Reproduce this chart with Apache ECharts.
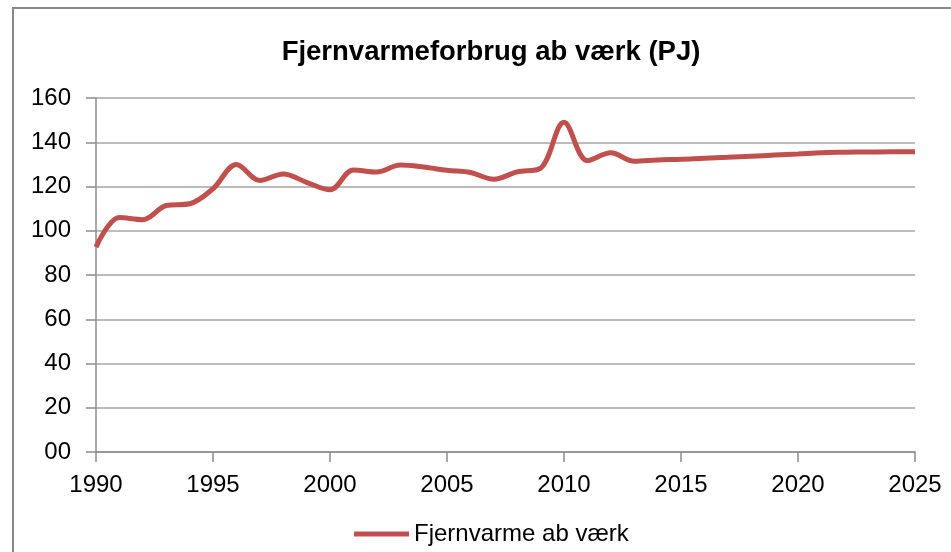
<!DOCTYPE html>
<html>
<head>
<meta charset="utf-8">
<script src="https://cdn.jsdelivr.net/npm/echarts@6/dist/echarts.min.js"></script>
<style>
html,body{margin:0;padding:0;background:#fff;}
#chart{width:951px;height:552px;}
</style>
</head>
<body>
<div id="chart"></div>
<script>
var titleText = 'Fjernvarmeforbrug ab værk (PJ)';
var seriesName = 'Fjernvarme ab værk';
var years = [1990,1991,1992,1993,1994,1995,1996,1997,1998,1999,2000,2001,2002,2003,2004,2005,2006,2007,2008,2009,2010,2011,2012,2013,2014,2015,2016,2017,2018,2019,2020,2021,2022,2023,2024,2025];
var values = [92.6,106.0,105.0,111.4,112.2,119.0,130.0,122.7,125.7,121.9,118.5,127.5,126.5,129.7,128.8,127.3,126.3,123.3,126.6,128.3,149.0,131.7,135.2,131.4,132.0,132.3,132.8,133.2,133.7,134.2,134.7,135.3,135.5,135.6,135.7,135.7];
var yTickLabels = {0:'00',20:'20',40:'40',60:'60',80:'80',100:'100',120:'120',140:'140',160:'160'};

var data = years.map(function(y,i){return [y, values[i]];});
var font = 'Liberation Sans, Arial, sans-serif';
var chart = echarts.init(document.getElementById('chart'), null, {renderer:'canvas'});
chart.setOption({
  animation:false,
  backgroundColor:'#ffffff',
  title:{
    text:titleText,
    left:486, top:33, textAlign:'center',
    textStyle:{fontFamily:font,fontSize:27.5,fontWeight:'bold',color:'#000'}
  },
  graphic:[{
    type:'rect', shape:{x:13,y:8,width:1000,height:700},
    style:{fill:'none',stroke:'#888888',lineWidth:2}, silent:true
  }],
  legend:{
    data:[seriesName], top:517, left:349,
    icon:'rect', itemWidth:55, itemHeight:5, itemGap:10,
    textStyle:{fontFamily:font,fontSize:24,color:'#000'}
  },
  grid:{left:96,right:36,top:98,bottom:100,containLabel:false},
  xAxis:{
    type:'value', min:1990, max:2025, interval:5,
    axisLine:{show:true,lineStyle:{color:'#8c8c8c',width:1.5}},
    axisTick:{show:true,inside:false,length:10,lineStyle:{color:'#8c8c8c',width:1.5}},
    axisLabel:{margin:21,fontFamily:font,fontSize:24,color:'#000',formatter:function(v){return String(v);}},
    splitLine:{show:false}
  },
  yAxis:{
    type:'value', min:0, max:160, interval:20,
    axisLine:{show:true,lineStyle:{color:'#8c8c8c',width:1.5}},
    axisTick:{show:true,inside:false,length:10,lineStyle:{color:'#8c8c8c',width:1.5}},
    axisLabel:{margin:25,fontFamily:font,fontSize:24,color:'#000',formatter:function(v){return yTickLabels[v]!==undefined?yTickLabels[v]:String(v);}},
    splitLine:{show:true,lineStyle:{color:'#a6a6a6',width:1.5}}
  },
  series:[{
    name:seriesName, type:'line', data:data, smooth:0.35,
    showSymbol:false, symbol:'none',
    lineStyle:{color:'#c0504d',width:5},
    itemStyle:{color:'#c0504d'}
  }]
});
</script>
</body>
</html>
